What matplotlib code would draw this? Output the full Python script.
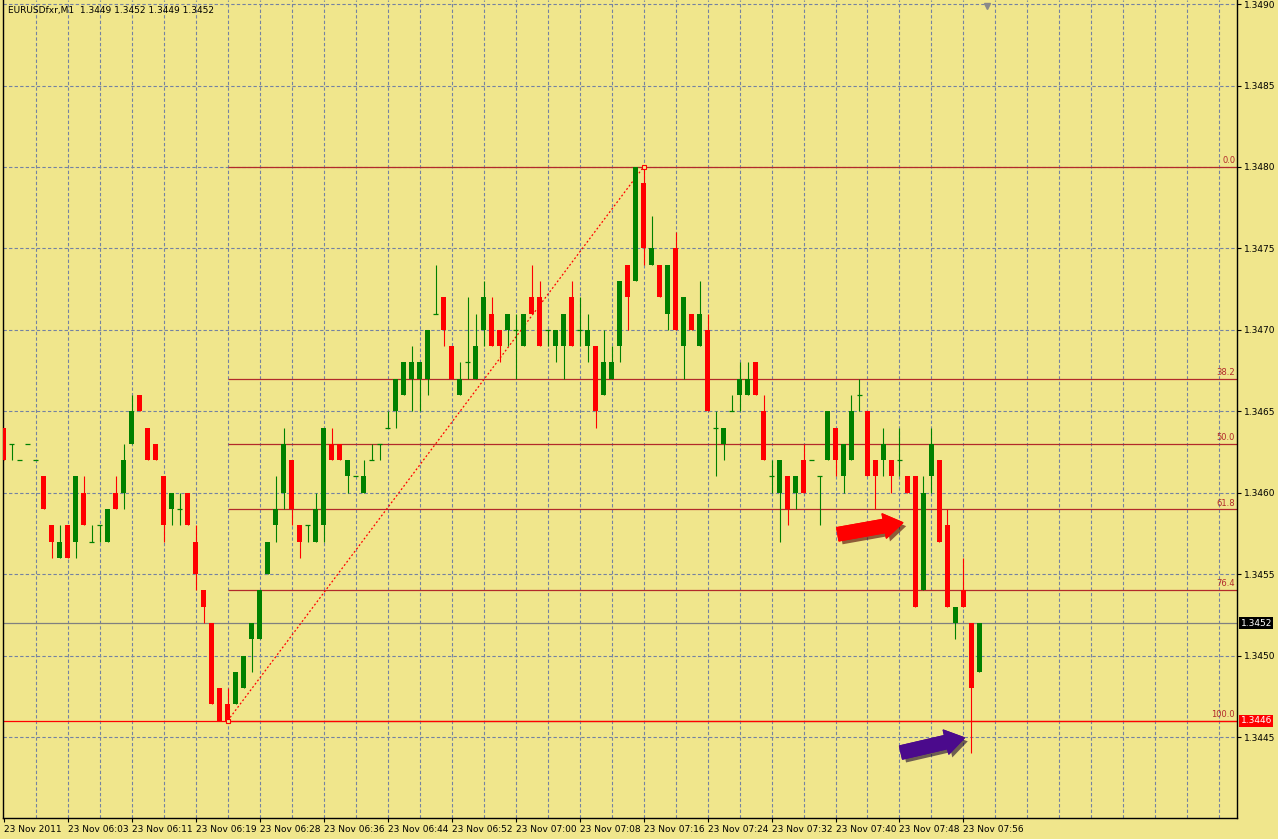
import numpy as np
import matplotlib
matplotlib.use("Agg")
import matplotlib.pyplot as plt
from matplotlib import patheffects
from matplotlib.transforms import blended_transform_factory

title_text = "EURUSDfxr,M1  1.3449 1.3452 1.3449 1.3452"

# M1 bars, prices given as pips above 1.3400 (e.g. 64 -> 1.3464)
open_pips = [64, 63, 62, 63, 62, 61, 58, 56, 58, 57, 60, 57, 58, 57, 60, 60, 63, 66, 64, 63,
             61, 59, 59, 60, 57, 54, 52, 48, 47, 47, 48, 51, 51, 55, 58, 60, 62, 58, 58, 57,
             58, 63, 63, 61, 61, 60, 62, 63, 64, 65, 66, 67, 67, 67, 71, 72, 69, 66, 68, 67,
             70, 71, 70, 70, 70, 69, 72, 72, 70, 69, 69, 72, 70, 69, 69, 66, 67, 69, 74, 73,
             79, 74, 74, 71, 75, 69, 71, 69, 70, 64, 63, 65, 66, 66, 68, 65, 61, 60, 61, 60,
             62, 62, 61, 62, 64, 61, 62, 66, 65, 62, 62, 62, 62, 61, 61, 54, 61, 62, 58, 52,
             54, 52, 49]
high_pips = [64, 63, 62, 63, 62, 61, 58, 58, 58, 61, 61, 58, 58, 59, 61, 63, 66, 66, 64, 63,
             61, 60, 60, 60, 58, 54, 52, 48, 48, 49, 50, 52, 54, 57, 61, 64, 62, 58, 58, 60,
             64, 64, 63, 62, 61, 62, 63, 63, 65, 67, 68, 69, 68, 70, 74, 72, 69, 68, 72, 71,
             73, 72, 70, 71, 71, 71, 74, 73, 70, 70, 71, 73, 72, 71, 69, 70, 69, 73, 74, 80,
             80, 77, 74, 74, 76, 72, 71, 73, 71, 65, 64, 66, 68, 68, 68, 66, 62, 62, 61, 61,
             63, 62, 61, 65, 64, 63, 66, 67, 65, 62, 64, 62, 64, 61, 61, 61, 64, 62, 59, 53,
             56, 52, 52]
low_pips = [62, 62, 62, 63, 62, 59, 56, 56, 56, 56, 58, 57, 57, 57, 59, 59, 63, 65, 62, 62,
            57, 58, 58, 58, 54, 52, 47, 46, 46, 47, 48, 49, 51, 55, 57, 59, 58, 56, 57, 57,
            57, 62, 62, 60, 61, 60, 62, 62, 64, 64, 66, 65, 65, 66, 71, 69, 67, 66, 67, 67,
            69, 69, 68, 69, 67, 69, 71, 69, 69, 68, 67, 69, 69, 68, 64, 66, 67, 68, 70, 73,
            74, 74, 72, 70, 70, 67, 70, 69, 65, 61, 62, 65, 65, 66, 66, 62, 60, 57, 58, 59,
            60, 62, 58, 62, 61, 60, 62, 65, 61, 59, 61, 60, 61, 60, 53, 54, 60, 57, 53, 51,
            53, 44, 49]
close_pips = [62, 63, 62, 63, 62, 59, 57, 57, 56, 61, 58, 57, 58, 59, 59, 62, 65, 65, 62, 62,
              58, 60, 59, 58, 55, 53, 47, 46, 46, 49, 50, 52, 54, 57, 59, 63, 59, 57, 58, 59,
              64, 62, 62, 62, 61, 61, 62, 63, 64, 67, 68, 68, 68, 70, 71, 70, 67, 67, 68, 69,
              72, 69, 69, 71, 70, 71, 71, 69, 70, 70, 71, 69, 70, 70, 65, 68, 68, 73, 72, 80,
              75, 75, 72, 74, 70, 72, 70, 71, 65, 64, 64, 65, 67, 67, 66, 62, 61, 62, 59, 61,
              60, 62, 61, 65, 62, 63, 65, 66, 61, 61, 63, 61, 62, 60, 53, 60, 63, 57, 53, 53,
              53, 48, 52]

time_labels = ["23 Nov 2011", "23 Nov 06:03", "23 Nov 06:11", "23 Nov 06:19", "23 Nov 06:28",
               "23 Nov 06:36", "23 Nov 06:44", "23 Nov 06:52", "23 Nov 07:00", "23 Nov 07:08",
               "23 Nov 07:16", "23 Nov 07:24", "23 Nov 07:32", "23 Nov 07:40", "23 Nov 07:48",
               "23 Nov 07:56"]

# fibonacci retracement drawn from the swing low to the swing high
fib_low_bar, fib_low = 28, 1.3446
fib_high_bar, fib_high = 80, 1.3480
fib_levels = [0.0, 38.2, 50.0, 61.8, 76.4, 100.0]
bid_price = 1.3452
line_price = 1.3446

opens = 1.34 + np.array(open_pips) / 10000
highs = 1.34 + np.array(high_pips) / 10000
lows = 1.34 + np.array(low_pips) / 10000
closes = 1.34 + np.array(close_pips) / 10000
bars = np.arange(len(opens))

BG = "#F0E68C"
GRID = "#7482A2"
BULL = "#008000"
BEAR = "#FF0000"
FIB = "#B22A2A"

fig = plt.figure(figsize=(12.78, 8.39), dpi=100, facecolor=BG)
ax = fig.add_axes([3 / 1278, 21 / 839, 1234 / 1278, 818 / 839], facecolor=BG)
x_min, x_max = -0.09, 154.2
ax.set_xlim(x_min, x_max)
ax.set_ylim(1.344003, 1.349025)

# grid
dash = (0, (3, 2))
for p in np.arange(1.3445, 1.34901, 0.0005):
    ax.axhline(p, color=GRID, lw=0.8, ls=dash, zorder=0)
for b in range(4, 155, 4):
    ax.axvline(b, color=GRID, lw=0.8, ls=dash, zorder=0)

# candles
body_w = 0.6
for b, o, h, l, c in zip(bars, opens, highs, lows, closes):
    col = BULL if c >= o else BEAR
    ax.vlines(b, l, h, color=col, lw=0.8, zorder=3)
    if abs(c - o) < 1e-9:
        ax.hlines(o, b - body_w / 2, b + body_w / 2, color=col, lw=0.9, zorder=3)
    else:
        ax.bar(b, abs(c - o), bottom=min(o, c), width=body_w, color=col, lw=0, zorder=3)

# fibonacci levels
rng = fib_high - fib_low
tr = blended_transform_factory(ax.transAxes, ax.transData)
for lev in fib_levels:
    price = fib_high - rng * lev / 100
    ax.hlines(price, fib_low_bar, x_max, color=FIB, lw=0.9, zorder=2)
    ax.text(0.9985, price + 0.00001, f"{lev:.1f}", transform=tr, ha="right", va="bottom",
            fontsize=6, color=FIB, zorder=4)
ax.plot([fib_low_bar, fib_high_bar], [fib_low, fib_high], color="#FF0000", lw=0.9,
        ls=(0, (1.5, 1.8)), zorder=2)
ax.plot([fib_low_bar, fib_high_bar], [fib_low, fib_high], ls="none", marker="s", ms=3,
        mfc=BG, mec="#FF0000", mew=0.8, zorder=4)

# horizontal line + bid line
ax.axhline(line_price, color="#FF0000", lw=0.9, zorder=2)
ax.axhline(bid_price, color="#808080", lw=0.9, zorder=1)

# price boxes on the right scale
ax.text(1.0028, bid_price, f"{bid_price:.4f}", transform=tr, ha="left", va="center",
        fontsize=6.5, color="white", clip_on=False,
        bbox=dict(boxstyle="square,pad=0.15", fc="black", ec="none"))
ax.text(1.0028, line_price, f"{line_price:.4f}", transform=tr, ha="left", va="center",
        fontsize=6.5, color="white", clip_on=False,
        bbox=dict(boxstyle="square,pad=0.15", fc="#FF0000", ec="none"))

# annotation arrows
shadow = [patheffects.withSimplePatchShadow(offset=(2.5, -2.5), alpha=0.6), patheffects.Normal()]
arrow_style = "simple,tail_width=0.3,head_width=0.55,head_length=0.42"
ax.annotate("", xy=(112.4, 1.345816), xytext=(104.3, 1.345745),
            arrowprops=dict(arrowstyle=arrow_style, color="#FF0000", mutation_scale=32,
                            shrinkA=0, shrinkB=0, capstyle="round", path_effects=shadow),
            zorder=5)
ax.annotate("", xy=(120.1, 1.344495), xytext=(112.2, 1.344405),
            arrowprops=dict(arrowstyle=arrow_style, color="#4B0A8C", mutation_scale=32,
                            shrinkA=0, shrinkB=0, capstyle="round", path_effects=shadow),
            zorder=5)

# shift marker at the top
ax.plot([123], [1.34899], marker="v", ms=5, color="#8A8A8A", clip_on=False, zorder=6)

# axes styling
for side in ["left", "right", "bottom"]:
    ax.spines[side].set_color("black")
    ax.spines[side].set_linewidth(1.0)
ax.spines["top"].set_visible(False)

ax.yaxis.tick_right()
yt = np.arange(1.3445, 1.34901, 0.0005)
ax.set_yticks(yt)
ax.set_yticklabels([f"{v:.4f}" for v in yt])
ax.tick_params(axis="y", direction="out", length=3, width=0.8, pad=2, labelsize=6.5,
               colors="black")

xt = bars[::8]
ax.set_xticks(xt)
ax.set_xticklabels(time_labels, fontsize=6.5)
for lbl in ax.get_xticklabels():
    lbl.set_horizontalalignment("left")
ax.tick_params(axis="x", direction="out", length=3, width=0.8, pad=2)

fig.text(8 / 1278, 1 - 11 / 839, title_text, fontsize=6.5, ha="left", va="center")

fig.savefig("out.png", dpi=100, facecolor=BG)
